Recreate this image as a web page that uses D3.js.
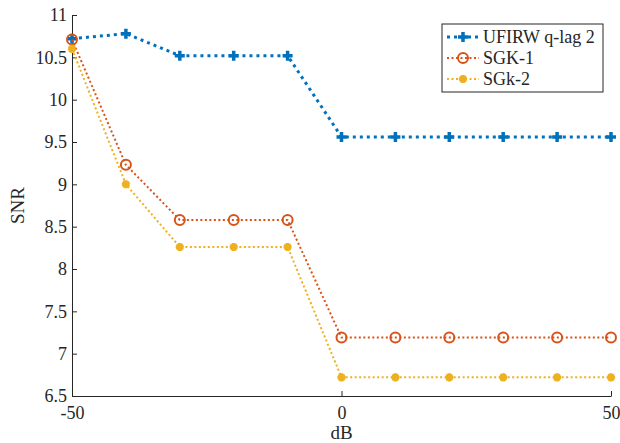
<!DOCTYPE html>
<html>
<head>
<meta charset="utf-8">
<script src="https://cdn.jsdelivr.net/npm/d3@7"></script>
<style>
  body { margin: 0; background: #fff; }
  svg text { font-family: "Liberation Serif", serif !important; fill: #262626; }
</style>
</head>
<body>
<div id="chart"></div>
<script>
const snrDb = [-50, -40, -30, -20, -10, 0, 10, 20, 30, 40, 50];
const ufirw = [10.72, 10.78, 10.52, 10.52, 10.52, 9.56, 9.56, 9.56, 9.56, 9.56, 9.56];
const sgk1 = [10.71, 9.23, 8.58, 8.58, 8.58, 7.19, 7.19, 7.19, 7.19, 7.19, 7.19];
const sgk2 = [10.6, 9.0, 8.26, 8.26, 8.26, 6.72, 6.72, 6.72, 6.72, 6.72, 6.72];
const xTicks = [-50, 0, 50];
const yTicks = [6.5, 7, 7.5, 8, 8.5, 9, 9.5, 10, 10.5, 11];
const seriesNames = ["UFIRW q-lag 2", "SGK-1", "SGk-2"];

const width = 620, height = 443;
const margin = {left: 72, right: 9, top: 15, bottom: 47};

const svg = d3.select("#chart").append("svg")
    .attr("width", width)
    .attr("height", height)
    .attr("font-family", "Liberation Serif");

const x = d3.scaleLinear().domain([-50, 50]).range([margin.left, width - margin.right]);
const y = d3.scaleLinear().domain([6.5, 11]).range([height - margin.bottom, margin.top]);

// axes, ticks pointing inward like matlab
const xAxis = svg.append("g")
    .attr("transform", `translate(0,${height - margin.bottom})`)
    .call(d3.axisBottom(x).tickValues(xTicks).tickFormat(d => String(d))
        .tickSizeInner(-5).tickSizeOuter(0).tickPadding(10));
const yAxis = svg.append("g")
    .attr("transform", `translate(${margin.left},0)`)
    .call(d3.axisLeft(y).tickValues(yTicks).tickFormat(d => String(d))
        .tickSizeInner(-5).tickSizeOuter(0).tickPadding(5));

[xAxis, yAxis].forEach(a => {
    a.attr("font-family", "Liberation Serif");
    a.select(".domain").attr("stroke", "#262626").attr("stroke-width", 1);
    a.selectAll(".tick line").attr("stroke", "#262626");
    a.selectAll(".tick text").style("font-size", "18px").attr("fill", "#262626");
});

svg.append("text")
    .attr("x", (margin.left + width - margin.right) / 2)
    .attr("y", 439)
    .attr("text-anchor", "middle")
    .style("font-size", "19px")
    .text("dB");

svg.append("text")
    .attr("transform", `translate(24,${(margin.top + height - margin.bottom) / 2}) rotate(-90)`)
    .attr("text-anchor", "middle")
    .style("font-size", "19px")
    .text("SNR");

const series = [
    {name: seriesNames[0], values: ufirw, color: "#0072BD", width: 3, dash: "3,4", marker: "plus"},
    {name: seriesNames[1], values: sgk1, color: "#D95319", width: 2, dash: "2,2.5", marker: "circle"},
    {name: seriesNames[2], values: sgk2, color: "#EDB120", width: 2, dash: "2,2.5", marker: "star"}
];

const line = d3.line().x((d, i) => x(snrDb[i])).y(d => y(d));

function drawMarker(g, s, cx, cy) {
    if (s.marker === "plus") {
        g.append("path")
            .attr("d", `M${cx - 5},${cy}H${cx + 5}M${cx},${cy - 5}V${cy + 5}`)
            .attr("stroke", s.color).attr("stroke-width", 3.5);
    } else if (s.marker === "circle") {
        g.append("circle")
            .attr("cx", cx).attr("cy", cy).attr("r", 5)
            .attr("fill", "none").attr("stroke", s.color).attr("stroke-width", 2);
    } else {
        g.append("path")
            .attr("d", d3.symbol().type(d3.symbolAsterisk).size(45)())
            .attr("transform", `translate(${cx},${cy})`)
            .attr("stroke", s.color).attr("stroke-width", 3.5).attr("fill", s.color);
    }
}

series.forEach(s => {
    svg.append("path")
        .datum(s.values)
        .attr("d", line)
        .attr("fill", "none")
        .attr("stroke", s.color)
        .attr("stroke-width", s.width)
        .attr("stroke-dasharray", s.dash);
    const g = svg.append("g");
    s.values.forEach((v, i) => drawMarker(g, s, x(snrDb[i]), y(v)));
});

// legend
const lg = svg.append("g").attr("transform", "translate(442,24)");
lg.append("rect")
    .attr("width", 161).attr("height", 68)
    .attr("fill", "#fff").attr("stroke", "#262626").attr("stroke-width", 1);
series.forEach((s, i) => {
    const ly = 13 + i * 21;
    lg.append("line")
        .attr("x1", 5).attr("x2", 37).attr("y1", ly).attr("y2", ly)
        .attr("stroke", s.color).attr("stroke-width", s.width).attr("stroke-dasharray", s.dash);
    drawMarker(lg, s, 21, ly);
    lg.append("text")
        .attr("x", 41).attr("y", ly + 6)
        .style("font-size", "18px")
        .text(s.name);
});
</script>
</body>
</html>
